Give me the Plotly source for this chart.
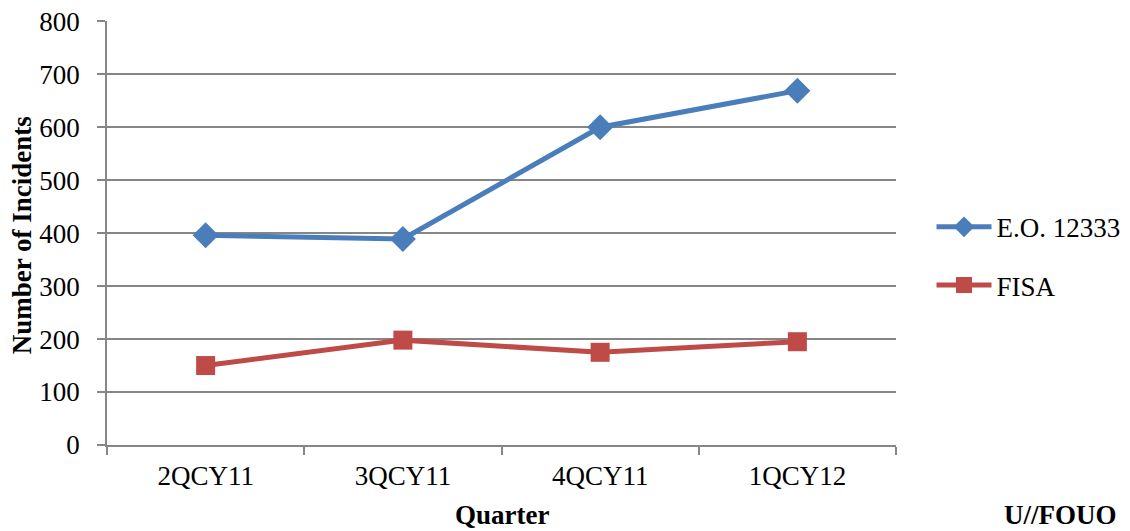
import plotly.graph_objects as go

quarters = ["2QCY11", "3QCY11", "4QCY11", "1QCY12"]
eo_12333 = [396, 389, 600, 669]
fisa = [150, 198, 175, 195]
y_ticks = [0, 100, 200, 300, 400, 500, 600, 700, 800]

FONT = "Liberation Serif, Times New Roman, serif"
GRID = "#868686"
FS = 27

fig = go.Figure()
fig.add_trace(go.Scatter(
    x=quarters, y=eo_12333, name="E.O. 12333", mode="lines+markers",
    legendgroup="a",
    line=dict(color="#4A7EBB", width=5),
    marker=dict(symbol="diamond", size=20, color="#4A7EBB"),
))
fig.add_trace(go.Scatter(
    x=quarters, y=fisa, name="FISA", mode="lines+markers",
    legendgroup="b",
    line=dict(color="#BE4B48", width=5),
    marker=dict(symbol="square", size=19, color="#BE4B48"),
))

fig.update_layout(
    width=1130, height=531,
    margin=dict(l=99, r=240, t=13, b=94),
    paper_bgcolor="white", plot_bgcolor="white",
    font=dict(family=FONT, size=FS, color="black"),
    legend=dict(
        x=1.045, y=0.445, xanchor="left", yanchor="middle",
        itemwidth=55, traceorder="grouped", tracegroupgap=20,
        font=dict(family=FONT, size=FS, color="black"),
        bgcolor="rgba(0,0,0,0)",
    ),
    xaxis=dict(
        type="category", range=[-0.5, 3.5], automargin=False,
        showline=True, linecolor=GRID, linewidth=1.5,
        ticks="outside", tickson="boundaries", ticklen=8, tickcolor=GRID, tickwidth=1.5,
        ticklabelstandoff=6,
        showgrid=False,
        tickfont=dict(family=FONT, size=FS),
    ),
    yaxis=dict(
        range=[0, 800.5], tickvals=y_ticks, automargin=False,
        showline=True, linecolor=GRID, linewidth=1.5,
        ticks="outside", ticklen=8, tickcolor=GRID, tickwidth=1.5,
        ticklabelstandoff=12, ticklabeloverflow="allow",
        showgrid=True, gridcolor=GRID, gridwidth=1.5,
        zeroline=False,
        tickfont=dict(family=FONT, size=FS),
    ),
    annotations=[
        dict(text="<b>U//FOUO</b>", xref="paper", yref="paper",
             x=1.2086, y=-0.165, xanchor="center", yanchor="middle",
             showarrow=False, font=dict(family=FONT, size=FS, color="black")),
        dict(text="<b>Quarter</b>", xref="paper", yref="paper",
             x=0.5006, y=-0.165, xanchor="center", yanchor="middle",
             showarrow=False, font=dict(family=FONT, size=FS, color="black")),
        dict(text="<b>Number of Incidents</b>", xref="paper", yref="paper",
             x=-0.1075, y=0.495, xanchor="center", yanchor="middle", textangle=-90,
             showarrow=False, font=dict(family=FONT, size=FS, color="black")),
    ],
)

fig.write_html("out.html")
